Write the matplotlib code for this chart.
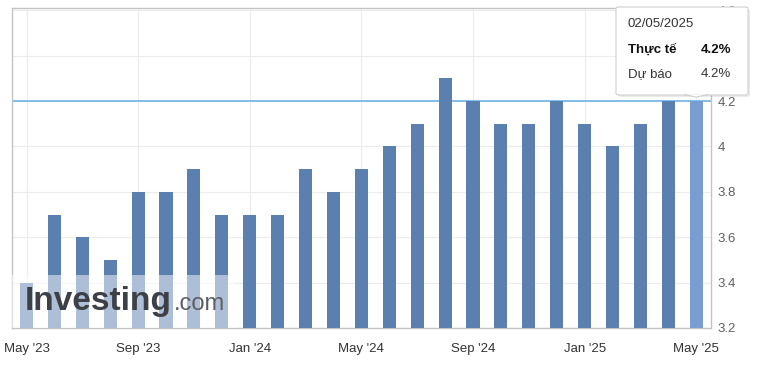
import matplotlib.pyplot as plt
import numpy as np
from matplotlib.patches import FancyBboxPatch, Polygon, Rectangle

plt.rcParams['font.family'] = ['Liberation Sans', 'DejaVu Sans']

# monthly values, May 2023 .. May 2025
months = ["May '23", "Jun '23", "Jul '23", "Aug '23", "Sep '23", "Oct '23", "Nov '23",
          "Dec '23", "Jan '24", "Feb '24", "Mar '24", "Apr '24", "May '24", "Jun '24",
          "Jul '24", "Aug '24", "Sep '24", "Oct '24", "Nov '24", "Dec '24", "Jan '25",
          "Feb '25", "Mar '25", "Apr '25", "May '25"]
values = [3.4, 3.7, 3.6, 3.5, 3.8, 3.8, 3.9, 3.7, 3.7, 3.7, 3.9, 3.8, 3.9, 4.0,
          4.1, 4.3, 4.2, 4.1, 4.1, 4.2, 4.1, 4.0, 4.1, 4.2, 4.2]
tick_every = 4
yticks = [3.2, 3.4, 3.6, 3.8, 4.0, 4.2, 4.4, 4.6]
ytick_labels = ["3.2", "3.4", "3.6", "3.8", "4", "4.2", "4.4", "4.6"]
latest = 4.2
tip_date = "02/05/2025"
tip_actual = "4.2%"
tip_forecast = "4.2%"

bar_col = '#5b7fae'
last_col = '#789dd0'

fig = plt.figure(figsize=(7.62, 3.69), dpi=100)
ax = fig.add_axes([12/762, 1-328/369, (711-12)/762, (328-8)/369])

x = np.arange(len(values))
colors = [bar_col]*(len(values)-1) + [last_col]
ax.bar(x, np.array(values) - 3.2, bottom=3.2, width=0.47, color=colors, zorder=3)

ax.axhline(latest, color='#6cb4e6', lw=1.2, zorder=2)

ax.set_xlim(-0.52, 24.53)
ax.set_ylim(3.2, 4.61)
ax.set_xticks(x[::tick_every])
ax.set_xticklabels(months[::tick_every], fontsize=9.5, color='#333333')
for lab in ax.get_xticklabels():
    lab.set_va('baseline')
ax.set_yticks(yticks)
ax.set_yticklabels(ytick_labels, fontsize=9.5, color='#606060')
ax.yaxis.tick_right()
ax.tick_params(axis='both', length=0)
ax.tick_params(axis='x', pad=17.5)
ax.tick_params(axis='y', pad=5)
ax.grid(True, color='#ececec', lw=0.8, zorder=0)
for s in ax.spines.values():
    s.set_color('#c4c4c4')
    s.set_linewidth(1.0)

# watermark with white veil
ax.add_patch(Rectangle((0, 0), 0.319, 0.166, transform=ax.transAxes,
                       facecolor='white', alpha=0.5, edgecolor='none', zorder=4))
ax.text(0.018, 0.055, "Investing", transform=ax.transAxes, fontsize=24,
        fontweight='bold', color='#3d4046', zorder=5, va='baseline')
ax.text(0.232, 0.055, ".com", transform=ax.transAxes, fontsize=17,
        color='#5a5d62', zorder=5, va='baseline')

# tooltip
W, H = 762, 369
tx, ty = ax.transData.transform((x[-1], latest))
tip = fig.transFigure.inverted().transform((tx, ty + 4))
bl, br, bt, bb = 616/W, 748/W, 1-7/H, 1-95/H
shadow = FancyBboxPatch((bl+2/W, bb-2/H), br-bl, bt-bb, boxstyle='round,pad=0,rounding_size=0.004',
                        transform=fig.transFigure, facecolor='#000000', alpha=0.08,
                        edgecolor='none', zorder=10)
fig.patches.append(shadow)
box = FancyBboxPatch((bl, bb), br-bl, bt-bb, boxstyle='round,pad=0,rounding_size=0.004',
                     transform=fig.transFigure, facecolor='white', edgecolor='#d0d0d0',
                     lw=0.8, zorder=11)
fig.patches.append(box)
ptr = Polygon([(tip[0]-12/W, bb+0.5/H), (tip[0], tip[1]), (tip[0]+12/W, bb+0.5/H)],
              closed=False, transform=fig.transFigure, facecolor='white',
              edgecolor='#d0d0d0', lw=0.8, zorder=12)
fig.patches.append(ptr)
fig.text(628/W, 1-24/H, tip_date, fontsize=9.5, color='#333333', va='center', zorder=13)
fig.text(628/W, 1-50/H, "Thực tế", fontsize=9.5, fontweight='bold', color='#111111',
         va='center', zorder=13)
fig.text(731/W, 1-50/H, tip_actual, fontsize=9.5, fontweight='bold', color='#111111',
         va='center', ha='right', zorder=13)
fig.text(628/W, 1-74/H, "Dự báo", fontsize=9.5, color='#333333', va='center', zorder=13)
fig.text(731/W, 1-74/H, tip_forecast, fontsize=9.5, color='#333333', va='center',
         ha='right', zorder=13)

fig.savefig('out.png', dpi=100)
